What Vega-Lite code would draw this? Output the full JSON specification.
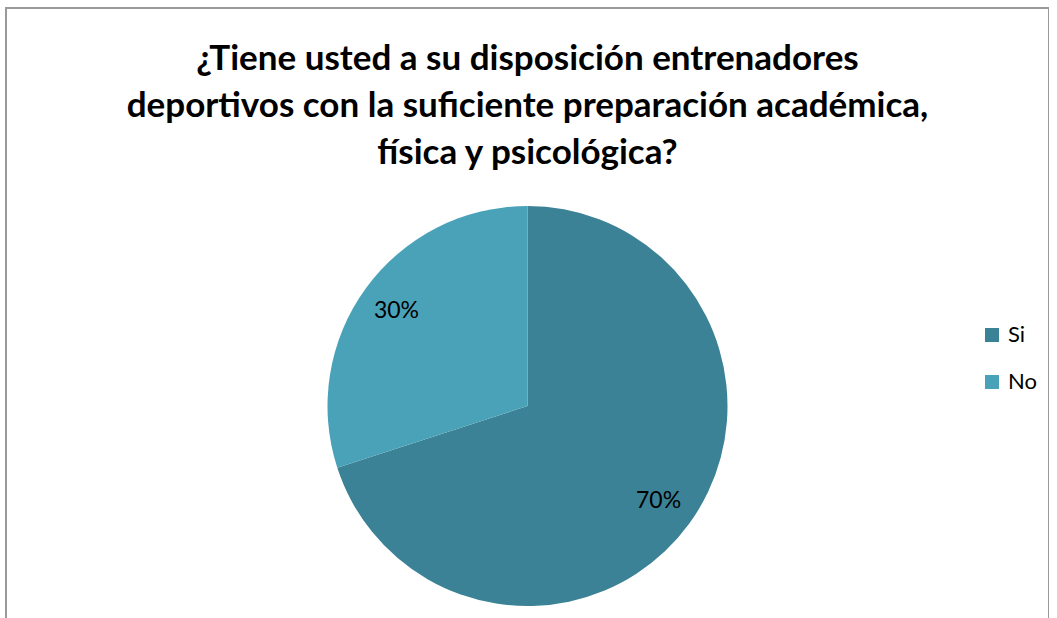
{
  "$schema": "https://vega.github.io/schema/vega-lite/v6.json",
  "autosize": {"type": "none"},
  "width": 1043,
  "height": 796,
  "padding": {"left": 6, "top": 8, "right": 0, "bottom": 0},
  "background": "white",
  "view": {"stroke": "#9a9a9a", "strokeWidth": 2},
  "title": {
    "text": ["¿Tiene usted a su disposición entrenadores", "deportivos con la suficiente preparación académica,", "física y psicológica?"],
    "font": "Lato",
    "fontSize": 35,
    "fontWeight": "bold",
    "color": "#000000",
    "lineHeight": 47,
    "anchor": "middle",
    "baseline": "top",
    "offset": -163
  },
  "data": {
    "values": [
      {"respuesta": "Si", "porcentaje": 70, "etiqueta": "70%"},
      {"respuesta": "No", "porcentaje": 30, "etiqueta": "30%"}
    ]
  },
  "encoding": {
    "theta": {"field": "porcentaje", "type": "quantitative", "stack": true},
    "color": {
      "field": "respuesta",
      "type": "nominal",
      "sort": ["Si", "No"],
      "scale": {"domain": ["Si", "No"], "range": ["#3c8296", "#4aa2b8"]},
      "legend": {
        "title": null,
        "orient": "none",
        "legendX": 975,
        "legendY": 316,
        "symbolType": "square",
        "symbolSize": 196,
        "symbolStrokeWidth": 0,
        "labelFont": "Lato",
        "labelFontSize": 22,
        "labelColor": "#000000",
        "rowPadding": 25,
        "labelOffset": 5
      }
    },
    "order": {"field": "porcentaje", "type": "quantitative", "sort": "descending"}
  },
  "layer": [
    {"mark": {"type": "arc", "outerRadius": 200, "stroke": null}},
    {
      "mark": {"type": "text", "radius": 162, "font": "Lato", "fontSize": 23, "fill": "#000000"},
      "encoding": {"text": {"field": "etiqueta", "type": "nominal"}, "color": {"value": "#000000"}}
    }
  ]
}
